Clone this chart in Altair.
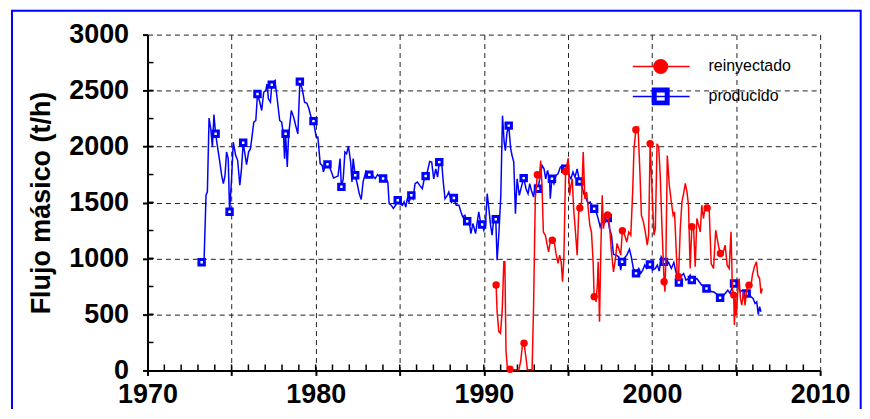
import altair as alt
import pandas as pd

FONT = "Liberation Sans"

# ---- producido (blue) ----
prod_year = [
    1973.22, 1973.36, 1973.48, 1973.56, 1973.66, 1973.76, 1973.86, 1973.95, 1974.05, 1974.15,
    1974.27, 1974.41, 1974.51, 1974.61, 1974.70, 1974.80, 1974.88, 1975.00, 1975.10, 1975.24,
    1975.36, 1975.49, 1975.59, 1975.69, 1975.79, 1975.89, 1976.01, 1976.12, 1976.20, 1976.32,
    1976.44, 1976.54, 1976.68, 1976.79, 1976.91, 1977.03, 1977.11, 1977.19, 1977.31, 1977.39,
    1977.50, 1977.58, 1977.70, 1977.86, 1977.98, 1978.09, 1978.15, 1978.21, 1978.31, 1978.39,
    1978.55, 1978.69, 1978.81, 1978.94, 1979.06, 1979.20, 1979.34, 1979.48, 1979.60, 1979.75,
    1979.87, 1980.03, 1980.13, 1980.27, 1980.39, 1980.46, 1980.58, 1980.70, 1980.82, 1980.94,
    1981.06, 1981.21, 1981.33, 1981.45, 1981.53, 1981.64, 1981.74, 1981.84, 1981.95, 1982.08,
    1982.16, 1982.23, 1982.35, 1982.49, 1982.59, 1982.71, 1982.82, 1982.99, 1983.19, 1983.38,
    1983.54, 1983.68, 1983.82, 1984.01, 1984.17, 1984.29, 1984.37, 1984.49, 1984.62, 1984.76,
    1984.88, 1985.00, 1985.16, 1985.26, 1985.36, 1985.45, 1985.55, 1985.69, 1985.79, 1985.91,
    1986.05, 1986.19, 1986.34, 1986.46, 1986.54, 1986.66, 1986.78, 1986.90, 1987.02, 1987.14,
    1987.25, 1987.35, 1987.49, 1987.59, 1987.69, 1987.83, 1987.92, 1988.08, 1988.22, 1988.36,
    1988.52, 1988.64, 1988.75, 1988.87, 1989.01, 1989.15, 1989.23, 1989.35, 1989.51, 1989.61,
    1989.70, 1989.80, 1989.90, 1990.00, 1990.10, 1990.20, 1990.30, 1990.40, 1990.49, 1990.59,
    1990.71, 1990.79, 1990.89, 1991.01, 1991.11, 1991.21, 1991.28, 1991.38, 1991.48, 1991.60,
    1991.68, 1991.78, 1991.88, 1991.98, 1992.11, 1992.23, 1992.37, 1992.51, 1992.63, 1992.73,
    1992.83, 1992.96, 1993.06, 1993.22, 1993.36, 1993.46, 1993.58, 1993.68, 1993.79, 1993.91,
    1993.95, 1994.05, 1994.17, 1994.29, 1994.41, 1994.55, 1994.68, 1994.84, 1995.00, 1995.10,
    1995.18, 1995.30, 1995.42, 1995.55, 1995.69, 1995.81, 1995.95, 1996.09, 1996.21, 1996.32,
    1996.44, 1996.56, 1996.68, 1996.80, 1996.92, 1997.04, 1997.15, 1997.37, 1997.47, 1997.59,
    1997.71, 1997.87, 1998.02, 1998.14, 1998.22, 1998.34, 1998.50, 1998.66, 1998.77, 1998.89,
    1999.05, 1999.21, 1999.33, 1999.45, 1999.57, 1999.68, 1999.88, 2000.04, 2000.20, 2000.32,
    2000.43, 2000.55, 2000.71, 2000.87, 2000.99, 2001.15, 2001.30, 2001.42, 2001.60, 2001.78,
    2001.88, 2002.02, 2002.17, 2002.27, 2002.37, 2002.53, 2002.67, 2002.81, 2002.96, 2003.12,
    2003.24, 2003.36, 2003.52, 2003.66, 2003.79, 2003.91, 2004.05, 2004.19, 2004.35, 2004.51,
    2004.64, 2004.74, 2004.88, 2005.02, 2005.14, 2005.26, 2005.38, 2005.49, 2005.63, 2005.77,
    2005.89, 2006.01, 2006.13, 2006.23, 2006.32, 2006.40, 2006.48,
]
prod_val = [
    966, 966, 1565, 1595, 2254, 2159, 1996, 2286, 2114, 2010,
    1892, 1743, 1669, 1743, 1951, 1892, 1417, 1714, 2040, 1921,
    1877, 1654, 1803, 2034, 1936, 1838, 1951, 1981, 2070, 2218,
    2233, 2470, 2396, 2322, 2485, 2500, 2559, 2426, 2396, 2553,
    2574, 2589, 2441, 2233, 2218, 2099, 1892, 2114, 1818, 2099,
    2322, 2263, 2188, 2114, 2580, 2515, 2396, 2387, 2337, 2248,
    2227, 2085, 2085, 1847, 1832, 1773, 1832, 1841, 1818, 1773,
    1720, 1729, 1737, 1892, 1640, 1714, 1951, 1936, 2005, 1862,
    1684, 1892, 1743, 1654, 1580, 1527, 1684, 1779, 1749, 1743,
    1714, 1749, 1729, 1714, 1714, 1684, 1491, 1476, 1447, 1476,
    1521, 1491, 1475, 1506, 1460, 1534, 1504, 1564, 1534, 1668,
    1683, 1653, 1623, 1712, 1736, 1786, 1866, 1861, 1712, 1801,
    1727, 1861, 1861, 1683, 1534, 1564, 1594, 1504, 1540, 1475,
    1475, 1416, 1371, 1386, 1332, 1312, 1223, 1312, 1223, 1327,
    1416, 1327, 1303, 1252, 1297, 1579, 1445, 1297, 1208, 1356,
    1350, 985, 1208, 1564, 2276, 2039, 1964, 2128, 2187, 1979,
    1920, 1861, 1401, 1712, 1564, 1638, 1718, 1623, 1579, 1668,
    1608, 1549, 1653, 1623, 1742, 1831, 1801, 1712, 1786, 1712,
    1534, 1712, 1668, 1742, 1757, 1816, 1831, 1801, 1790, 1730,
    1712, 1772, 1727, 1801, 1688, 1653, 1579, 1534, 1490, 1504,
    1460, 1445, 1416, 1356, 1282, 1341, 1312, 1362, 1267, 1208,
    1036, 1030, 1015, 896, 970, 1000, 1030, 1083, 1015, 911,
    867, 911, 867, 896, 941, 911, 947, 896, 911, 941,
    887, 1015, 970, 941, 965, 911, 965, 881, 785, 851,
    866, 807, 821, 851, 807, 807, 821, 792, 762, 747,
    732, 747, 702, 702, 688, 673, 649, 658, 688, 717,
    688, 732, 777, 777, 747, 702, 717, 702, 688, 688,
    658, 643, 598, 613, 500, 569, 524,
]
prod_mark_year = [1973.22, 1974.05, 1974.88, 1975.69, 1976.54, 1977.39, 1978.21, 1979.06, 1979.87,
                  1980.70, 1981.53, 1982.35, 1983.19, 1984.01, 1984.88, 1985.69, 1986.54, 1987.35,
                  1988.22, 1989.01, 1989.90, 1990.71, 1991.48, 1992.37, 1993.22, 1994.05, 1994.84,
                  1995.69, 1996.56, 1997.37, 1998.22, 1999.05, 1999.88, 2000.71, 2001.60, 2002.37,
                  2003.24, 2004.05, 2004.88, 2005.63]
prod_mark_val = [966, 2114, 1417, 2034, 2470, 2553, 2114, 2580, 2227,
                 1841, 1640, 1743, 1749, 1714, 1521, 1564, 1736, 1861,
                 1540, 1332, 1303, 1350, 2187, 1718, 1623, 1712, 1801,
                 1688, 1445, 1362, 970, 867, 947, 970, 785, 807,
                 732, 649, 777, 688]

# ---- reinyectado (red) ----
rein_year = [
    1990.73, 1990.79, 1990.89, 1990.99, 1991.09, 1991.19, 1991.25, 1991.32, 1991.40, 1991.56,
    1991.72, 1992.08, 1992.19, 1992.31, 1992.39, 1992.51, 1992.59, 1992.87, 1992.96, 1993.06,
    1993.18, 1993.30, 1993.38, 1993.46, 1993.54, 1993.66, 1993.77, 1993.85, 1993.95, 1994.07,
    1994.19, 1994.29, 1994.41, 1994.51, 1994.60, 1994.68, 1994.76, 1994.86, 1995.02, 1995.10,
    1995.18, 1995.26, 1995.34, 1995.45, 1995.55, 1995.65, 1995.71, 1995.81, 1995.91, 1996.01,
    1996.11, 1996.21, 1996.30, 1996.40, 1996.50, 1996.56, 1996.68, 1996.76, 1996.80, 1996.88,
    1996.96, 1997.04, 1997.11, 1997.23, 1997.36, 1997.47, 1997.59, 1997.71, 1997.83, 1997.92,
    1998.02, 1998.14, 1998.24, 1998.38, 1998.50, 1998.62, 1998.74, 1998.85, 1998.93, 1999.04,
    1999.17, 1999.29, 1999.37, 1999.49, 1999.60, 1999.72, 1999.80, 1999.89, 2000.04, 2000.12,
    2000.20, 2000.30, 2000.40, 2000.49, 2000.59, 2000.72, 2000.77, 2000.83, 2000.91, 2001.03,
    2001.15, 2001.26, 2001.34, 2001.42, 2001.50, 2001.58, 2001.68, 2001.78, 2001.88, 2001.98,
    2002.08, 2002.17, 2002.27, 2002.37, 2002.47, 2002.57, 2002.67, 2002.77, 2002.87, 2002.96,
    2003.06, 2003.16, 2003.28, 2003.40, 2003.52, 2003.66, 2003.79, 2003.91, 2003.99, 2004.07,
    2004.19, 2004.35, 2004.47, 2004.59, 2004.70, 2004.78, 2004.86, 2004.90, 2004.96, 2005.02,
    2005.10, 2005.18, 2005.26, 2005.34, 2005.45, 2005.53, 2005.65, 2005.77, 2005.89, 2005.97,
    2006.09, 2006.21, 2006.29, 2006.40, 2006.48, 2006.56,
]
rein_val = [
    763, 525, 347, 332, 525, 970, 970, 169, 21, 10,
    5, 5, 80, 243, 243, 110, 5, 5, 585, 1534,
    1748, 1712, 1875, 1653, 1237, 1208, 1119, 1059, 1148, 1163,
    1148, 1045, 956, 1030, 970, 792, 1000, 1777, 1896, 1564,
    1653, 1712, 1445, 1237, 1030, 1445, 1451, 1504, 1950, 1534,
    1594, 1445, 1297, 1237, 970, 659, 614, 792, 970, 436,
    1089, 1564, 1267, 1386, 1389, 1297, 1059, 881, 1000, 1134,
    1089, 1030, 1248, 1208, 1148, 1237, 1208, 1594, 1979, 2150,
    2172, 1742, 1386, 1327, 1237, 1119, 1208, 2025, 1475, 1208,
    1267, 2024, 1994, 1742, 1297, 792, 703, 1030, 1920, 1653,
    1504, 1386, 1416, 1148, 852, 837, 1262, 1506, 1580, 1670,
    1595, 1476, 911, 1283, 1283, 926, 1357, 1298, 1238, 1476,
    1357, 1461, 1452, 1446, 955, 911, 1253, 1149, 1089, 1045,
    1030, 1119, 940, 911, 1238, 732, 673, 405, 643, 494,
    702, 821, 643, 583, 702, 583, 732, 762, 762, 851,
    926, 970, 851, 821, 687, 732,
]
rein_mark_year = [1990.73, 1991.56, 1992.39, 1993.18, 1994.07, 1994.86, 1995.71, 1996.56, 1997.36,
                  1998.24, 1999.04, 1999.89, 2000.72, 2001.58, 2002.37, 2003.28, 2004.07, 2004.86,
                  2005.77]
rein_mark_val = [763, 10, 243, 1748, 1163, 1777, 1451, 659, 1389,
                 1248, 2150, 2025, 792, 837, 1283, 1452, 1045, 673,
                 762]

# ---- axes ----
x_major = [1970, 1975, 1980, 1985, 1990, 1995, 2000, 2005, 2010]
x_minor = list(range(1971, 2010))
y_major = [0, 500, 1000, 1500, 2000, 2500, 3000]
y_minor = list(range(250, 3000, 250))
legend_labels = ["reinyectado", "producido"]
y_title = "Flujo másico (t/h)"

RED = "#FF0000"
BLUE = "#0000FF"
W, H = 675, 337

prod = pd.DataFrame({"year": prod_year, "val": prod_val})
prod_m = pd.DataFrame({"year": prod_mark_year, "val": prod_mark_val})
rein = pd.DataFrame({"year": rein_year, "val": rein_val})
rein_m = pd.DataFrame({"year": rein_mark_year, "val": rein_mark_val})

xs = alt.Scale(domain=[1970, 2010], nice=False, zero=False)
ys = alt.Scale(domain=[0, 3000], nice=False)

xaxis = alt.Axis(values=x_major, format="d",
                 labelExpr="datum.value % 10 == 0 ? datum.label : ''",
                 grid=True, gridDash=[5, 4], gridColor="#222", gridWidth=1,
                 domainColor="black", domainWidth=2, tickColor="black", tickWidth=2, tickSize=5,
                 labelFont=FONT, labelFontSize=27, labelFontWeight="bold", labelColor="black",
                 labelPadding=6, labelFlush=False, labelOverlap=False, title=None)
yaxis = alt.Axis(values=y_major, format="d", grid=True, gridDash=[5, 4], gridColor="#222", gridWidth=1,
                 domainColor="black", domainWidth=2, tickColor="black", tickWidth=2, tickSize=5,
                 labelFont=FONT, labelFontSize=27, labelFontWeight="bold", labelColor="black",
                 labelPadding=14, labelFlush=False, labelOverlap=False,
                 title=y_title, titleFont=FONT, titleFontSize=27, titleFontWeight="bold",
                 titleColor="black", titleX=-106, titleY=H / 2, titleAngle=270,
                 titleAlign="center", titleBaseline="middle")

one = pd.DataFrame({"k": [0]})

frame = alt.Chart(one).mark_rect(fill=None, stroke=BLUE, strokeWidth=2).encode(
    x=alt.value(-136), x2=alt.value(715.7), y=alt.value(-24), y2=alt.value(430))

base_axes = alt.Chart(prod).mark_line(opacity=0).encode(
    x=alt.X("year:Q", scale=xs, axis=xaxis),
    y=alt.Y("val:Q", scale=ys, axis=yaxis))

xminor = alt.Chart(pd.DataFrame({"year": x_minor})).mark_rule(color="black", strokeWidth=1.5).encode(
    x=alt.X("year:Q", scale=xs), y=alt.value(H), y2=alt.value(H - 6))
yminor = alt.Chart(pd.DataFrame({"val": y_minor + y_major[1:-1]})).mark_rule(color="black", strokeWidth=1.5).encode(
    y=alt.Y("val:Q", scale=ys), x=alt.value(0), x2=alt.value(6))

prod_line = alt.Chart(prod).mark_line(color=BLUE, strokeWidth=1.5).encode(
    x=alt.X("year:Q", scale=xs), y=alt.Y("val:Q", scale=ys))
prod_pts = alt.Chart(prod_m).mark_square(size=30, fill="white", stroke=BLUE, strokeWidth=3,
                                         opacity=1, fillOpacity=1).encode(
    x=alt.X("year:Q", scale=xs), y=alt.Y("val:Q", scale=ys))
rein_line = alt.Chart(rein).mark_line(color=RED, strokeWidth=1.5).encode(
    x=alt.X("year:Q", scale=xs), y=alt.Y("val:Q", scale=ys))
rein_pts = alt.Chart(rein_m).mark_circle(size=55, color=RED, opacity=1).encode(
    x=alt.X("year:Q", scale=xs), y=alt.Y("val:Q", scale=ys))

# legend
leg_r = pd.DataFrame({"label": [legend_labels[0]]})
leg_b = pd.DataFrame({"label": [legend_labels[1]]})
lr_line = alt.Chart(leg_r).mark_rule(color=RED, strokeWidth=1.5).encode(
    x=alt.value(487), x2=alt.value(544), y=alt.value(32))
lr_pt = alt.Chart(leg_r).mark_circle(size=227, color=RED, opacity=1).encode(
    x=alt.value(515), y=alt.value(32))
lr_txt = alt.Chart(leg_r).mark_text(align="left", baseline="middle", font=FONT, fontSize=16,
                                    color="black").encode(
    x=alt.value(563), y=alt.value(32), text="label:N")
lb_pt = alt.Chart(leg_b).mark_square(size=169, fill="white", stroke=BLUE, strokeWidth=5,
                                     opacity=1, fillOpacity=1).encode(
    x=alt.value(515), y=alt.value(62))
lb_line = alt.Chart(leg_b).mark_rule(color=BLUE, strokeWidth=1.5).encode(
    x=alt.value(487), x2=alt.value(544), y=alt.value(62))
lb_txt = alt.Chart(leg_b).mark_text(align="left", baseline="middle", font=FONT, fontSize=16,
                                    color="black").encode(
    x=alt.value(563), y=alt.value(62), text="label:N")

chart = alt.layer(
    frame, base_axes, xminor, yminor,
    prod_line, prod_pts, rein_line, rein_pts,
    lr_line, lr_pt, lr_txt, lb_pt, lb_line, lb_txt,
).properties(
    width=W, height=H,
    autosize=alt.AutoSizeParams(type="none"),
    padding={"left": 140, "top": 26, "right": 42, "bottom": 38},
    background="white",
).configure_view(stroke=None)

chart.save("out.html", embed_options={"renderer": "svg", "actions": False})
